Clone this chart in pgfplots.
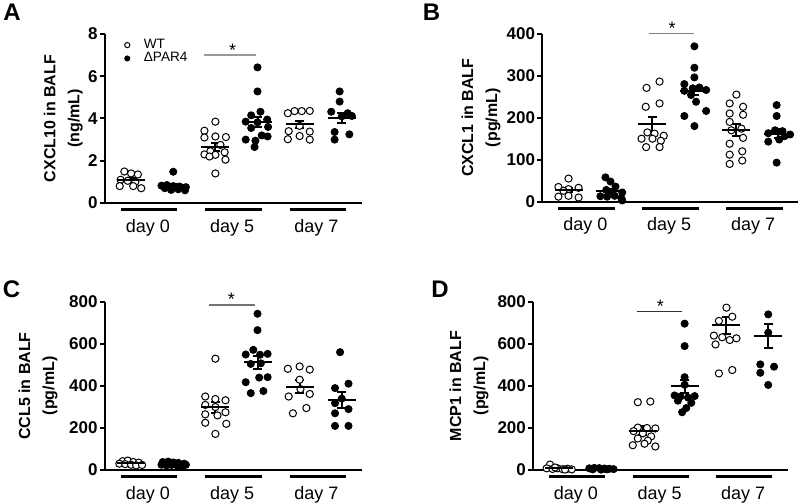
\documentclass[border=0pt]{standalone}
\usepackage{fontspec}
\setmainfont{Liberation Sans}
\usepackage{pgfplots}
\pgfplotsset{compat=1.18}

\pgfplotsset{
  panel/.style={
    scale only axis, clip=false,
    xmin=0.38, xmax=6.48, ymin=0,
    axis x line=bottom, axis y line=left,
    axis line style={-, line width=1pt, black},
    xtick={1.4,3.4,5.4}, xticklabels={day 0,day 5,day 7},
    x tick style={draw=none},
    xticklabel style={font=\fontsize{9}{10}\selectfont, yshift=-2pt},
    y tick style={line width=1pt, black},
    tick align=outside, major tick length=2.5pt,
    yticklabel style={font=\bfseries\fontsize{8.5}{10}\selectfont, inner sep=1pt},
    /pgf/number format/assume math mode=true,
    ylabel style={font=\bfseries\fontsize{8}{12}\selectfont, align=center, anchor=center},
  },
  wt/.style={only marks, mark=*, mark size=1.8pt, mark options={fill=white, draw=black, line width=0.5pt}},
  ko/.style={only marks, mark=*, mark size=1.8pt, mark options={fill=black, draw=black}},
  meanbar/.style={forget plot, only marks, mark=-, mark size=7pt,
    mark options={line width=1pt, black},
    error bars/.cd, y dir=both, y explicit,
    error bar style={line width=1pt, black},
    error mark options={rotate=90, mark size=2.2pt, line width=1pt, black}},
}

\begin{document}
\begin{tikzpicture}
\path[use as bounding box] (0,0) rectangle (400pt,251.5pt);

% ---------------- Panel A ----------------
\begin{axis}[panel, at={(52.5pt,150pt)}, anchor=south west,
  width=128.5pt, height=84.5pt, ymax=8, ytick={0,2,4,6,8},
  ylabel={CXCL10 in BALF\\(ng/mL)},
  ylabel style={at={(axis description cs:-0.162,0.5)}},
  legend style={at={(axis description cs:0.075,0.985)}, anchor=north west,
    draw=none, fill=none, font=\fontsize{6.8}{7}\selectfont, row sep=-1.5pt,
    inner sep=0pt, nodes={inner sep=1pt},
    /tikz/every odd column/.append style={column sep=6pt}},
  legend image post style={mark size=1.3pt},
  legend cell align=left]
\addplot[wt] coordinates {
 (0.84,1.49) (1.0,1.40) (1.16,1.35) (0.75,1.10) (0.92,1.05) (1.10,1.00) (0.73,0.80) (1.05,0.80) (1.24,0.70)
 (3.0,3.85) (2.74,3.42) (3.0,3.15) (3.25,3.12) (2.74,3.10) (3.12,2.75) (2.88,2.45) (3.22,2.40) (2.74,2.30) (3.0,2.28) (2.86,2.20) (3.24,2.05) (3.0,1.40)
 (4.72,4.25) (4.88,4.35) (5.05,4.35) (5.24,4.36) (5.0,3.65) (4.74,3.40) (5.24,3.38) (5.0,3.17) (4.72,3.02) (5.24,3.00)
};
\addlegendentry{WT}
\addplot[ko] coordinates {
 (2.0,1.48) (1.72,0.82) (1.85,0.85) (2.0,0.80) (2.15,0.78) (2.3,0.75) (1.8,0.70) (1.95,0.62) (2.12,0.65) (2.28,0.60)
 (4.0,6.42) (4.0,5.28) (4.07,4.32) (3.85,4.15) (4.23,3.95) (3.72,3.85) (4.0,3.82) (4.25,3.60) (3.85,3.55) (4.1,3.20) (4.24,3.15) (3.72,3.00) (3.95,2.95) (3.93,2.65)
 (5.95,5.28) (5.95,4.80) (5.75,4.32) (6.14,4.25) (6.0,4.10) (6.24,4.12) (5.83,3.36) (6.18,3.25) (5.83,3.00)
};
\addlegendentry{ΔPAR4}
\addplot[meanbar] coordinates {
 (1,1.08) +- (0,0.08) (2,0.85) +- (0,0.07) (3,2.65) +- (0,0.19)
 (4,3.82) +- (0,0.24) (5,3.72) +- (0,0.16) (6,4.03) +- (0,0.25)
};
\draw[line width=1.5pt] ([yshift=-3.3pt]axis cs:0.76,0) -- ([yshift=-3.3pt]axis cs:2.10,0);
\draw[line width=1.5pt] ([yshift=-3.3pt]axis cs:2.76,0) -- ([yshift=-3.3pt]axis cs:4.10,0);
\draw[line width=1.5pt] ([yshift=-3.3pt]axis cs:4.76,0) -- ([yshift=-3.3pt]axis cs:6.10,0);
\draw[black!40, line width=0.7pt] (axis cs:2.72,7.0) -- (axis cs:3.96,7.0);
\node[anchor=base, inner sep=0pt, font=\fontsize{9}{10}\selectfont] at (axis cs:3.41,6.95) {*};
\end{axis}

% ---------------- Panel B ----------------
\begin{axis}[panel, at={(271.25pt,150.65pt)}, anchor=south west,
  width=128pt, height=84pt, ymax=400, ytick={0,100,200,300,400},
  ylabel={CXCL1 in BALF\\(pg/mL)},
  ylabel style={at={(axis description cs:-0.240,0.5)}}]
\addplot[wt] coordinates {
 (1.0,55) (0.76,35) (1.24,33) (1.0,30) (0.88,26) (0.76,12) (1.0,14) (1.24,10)
 (3.17,286) (2.86,271) (3.17,234) (2.84,226) (2.88,165) (3.05,162) (3.27,157) (2.74,150) (3.0,150) (3.2,145) (2.85,130) (3.17,130)
 (5.0,255) (4.84,234) (5.16,226) (4.84,210) (5.16,207) (4.84,190) (4.88,170) (5.12,174) (4.84,138) (5.16,152) (4.84,112) (5.14,120) (4.84,90) (5.14,98)
};
\addplot[ko] coordinates {
 (1.88,58) (2.0,48) (2.12,36) (1.9,28) (2.05,24) (2.28,22) (1.76,13) (1.92,12) (2.1,14) (2.26,8) (2.28,3)
 (4.0,370) (4.0,319) (4.0,296) (3.76,280) (3.76,264) (3.96,270) (4.12,272) (4.28,266) (3.92,254) (4.04,238) (3.76,204) (4.28,216) (4.0,180)
 (5.96,230) (5.96,204) (5.92,170) (6.1,168) (5.76,163) (6.28,160) (6.15,156) (6.02,148) (5.76,143) (5.96,93)
};
\addplot[meanbar] coordinates {
 (1,27) +- (0,5) (2,25) +- (0,5) (3,184) +- (0,17)
 (4,264) +- (0,10) (5,171) +- (0,14) (6,162) +- (0,11)
};
\draw[line width=1.5pt] ([yshift=-3.3pt]axis cs:0.76,0) -- ([yshift=-3.3pt]axis cs:2.10,0);
\draw[line width=1.5pt] ([yshift=-3.3pt]axis cs:2.76,0) -- ([yshift=-3.3pt]axis cs:4.10,0);
\draw[line width=1.5pt] ([yshift=-3.3pt]axis cs:4.76,0) -- ([yshift=-3.3pt]axis cs:6.10,0);
\draw[black!50, line width=0.7pt] (axis cs:2.91,400) -- (axis cs:3.98,400);
\node[anchor=base, inner sep=0pt, font=\fontsize{9}{10}\selectfont] at (axis cs:3.47,398) {*};
\end{axis}

% ---------------- Panel C ----------------
\begin{axis}[panel, at={(52.5pt,16.5pt)}, anchor=south west,
  width=128.5pt, height=84pt, ymax=800, ytick={0,200,400,600,800},
  ylabel={CCL5 in BALF\\(pg/mL)},
  ylabel style={at={(axis description cs:-0.261,0.5)}}]
\addplot[wt] coordinates {
 (0.8,42) (0.92,45) (1.05,38) (1.18,35) (0.72,30) (0.86,28) (1.0,25) (1.12,22) (1.26,24)
 (3.0,530) (2.76,350) (3.0,338) (3.24,332) (2.76,310) (3.0,300) (3.24,275) (2.76,265) (3.05,260) (2.76,225) (3.26,220) (3.0,172)
 (4.72,482) (5.0,493) (5.24,478) (5.0,430) (5.02,385) (5.24,362) (4.74,350) (5.16,295) (4.84,270)
};
\addplot[ko] coordinates {
 (1.75,38) (1.88,40) (2.0,36) (2.12,34) (2.26,30) (1.72,25) (1.84,22) (1.96,24) (2.1,20) (2.22,18) (2.3,25) (1.92,30)
 (4.0,744) (4.0,666) (3.9,572) (3.72,550) (4.06,549) (4.24,553) (3.84,505) (4.08,508) (4.24,442) (3.72,418) (4.04,440) (3.84,366) (4.14,376)
 (5.96,561) (5.84,390) (6.16,411) (6.0,340) (5.84,318) (6.16,290) (5.84,270) (5.84,210) (6.16,210)
};
\addplot[meanbar] coordinates {
 (1,33) +- (0,3) (2,27) +- (0,3) (3,298) +- (0,27)
 (4,514) +- (0,31) (5,396) +- (0,31) (6,334) +- (0,37)
};
\draw[line width=1.5pt] ([yshift=-3.3pt]axis cs:0.76,0) -- ([yshift=-3.3pt]axis cs:2.10,0);
\draw[line width=1.5pt] ([yshift=-3.3pt]axis cs:2.76,0) -- ([yshift=-3.3pt]axis cs:4.10,0);
\draw[line width=1.5pt] ([yshift=-3.3pt]axis cs:4.76,0) -- ([yshift=-3.3pt]axis cs:6.10,0);
\draw[black!55, line width=0.7pt] (axis cs:2.84,786) -- (axis cs:3.93,786);
\node[anchor=base, inner sep=0pt, font=\fontsize{9}{10}\selectfont] at (axis cs:3.38,782) {*};
\end{axis}

% ---------------- Panel D ----------------
\begin{axis}[panel, at={(266.65pt,16.5pt)}, anchor=south west,
  width=127.5pt, height=84pt, ymax=800, ytick={0,200,400,600,800},
  ylabel={MCP1 in BALF\\(pg/mL)},
  ylabel style={at={(axis description cs:-0.252,0.5)}}]
\addplot[wt] coordinates {
 (0.78,26) (0.7,8) (0.84,5) (0.96,8) (1.08,4) (1.2,6) (1.3,3) (0.9,12) (1.14,2)
 (2.88,323) (3.18,326) (2.88,202) (3.1,200) (3.3,198) (2.78,185) (3.0,175) (3.2,160) (2.88,150) (3.12,140) (2.76,118) (3.04,125) (3.3,112)
 (5.0,773) (4.82,710) (5.14,730) (4.7,640) (4.9,632) (5.08,619) (5.24,627) (4.74,598) (4.82,460) (5.14,476)
};
\addplot[ko] coordinates {
 (1.72,8) (1.84,10) (1.96,9) (2.08,7) (2.2,6) (2.3,4) (1.8,3) (2.0,2) (2.14,3)
 (4.0,697) (4.0,590) (4.0,442) (4.0,406) (3.76,355) (3.9,350) (4.08,345) (4.24,352) (3.84,330) (4.16,320) (4.04,295) (3.94,275)
 (6.0,741) (6.0,654) (5.81,503) (6.14,492) (5.81,463) (6.0,405)
};
\addplot[meanbar] coordinates {
 (1,8) +- (0,3) (2,5) +- (0,2) (3,188) +- (0,20)
 (4,398) +- (0,32) (5,690) +- (0,40) (6,638) +- (0,57)
};
\draw[line width=1.5pt] ([yshift=-3.3pt]axis cs:0.76,0) -- ([yshift=-3.3pt]axis cs:2.10,0);
\draw[line width=1.5pt] ([yshift=-3.3pt]axis cs:2.76,0) -- ([yshift=-3.3pt]axis cs:4.10,0);
\draw[line width=1.5pt] ([yshift=-3.3pt]axis cs:4.76,0) -- ([yshift=-3.3pt]axis cs:6.10,0);
\draw[black!80, line width=0.7pt] (axis cs:2.85,754) -- (axis cs:3.94,754);
\node[anchor=base, inner sep=0pt, font=\fontsize{9}{10}\selectfont] at (axis cs:3.42,750) {*};
\end{axis}

% panel letters
\node[font=\bfseries\fontsize{12}{12}\selectfont] at (6pt,245.25pt) {A};
\node[font=\bfseries\fontsize{12}{12}\selectfont] at (215.75pt,245.25pt) {B};
\node[font=\bfseries\fontsize{12}{12}\selectfont] at (5.75pt,106.75pt) {C};
\node[font=\bfseries\fontsize{12}{12}\selectfont] at (220pt,106.75pt) {D};
\end{tikzpicture}
\end{document}
